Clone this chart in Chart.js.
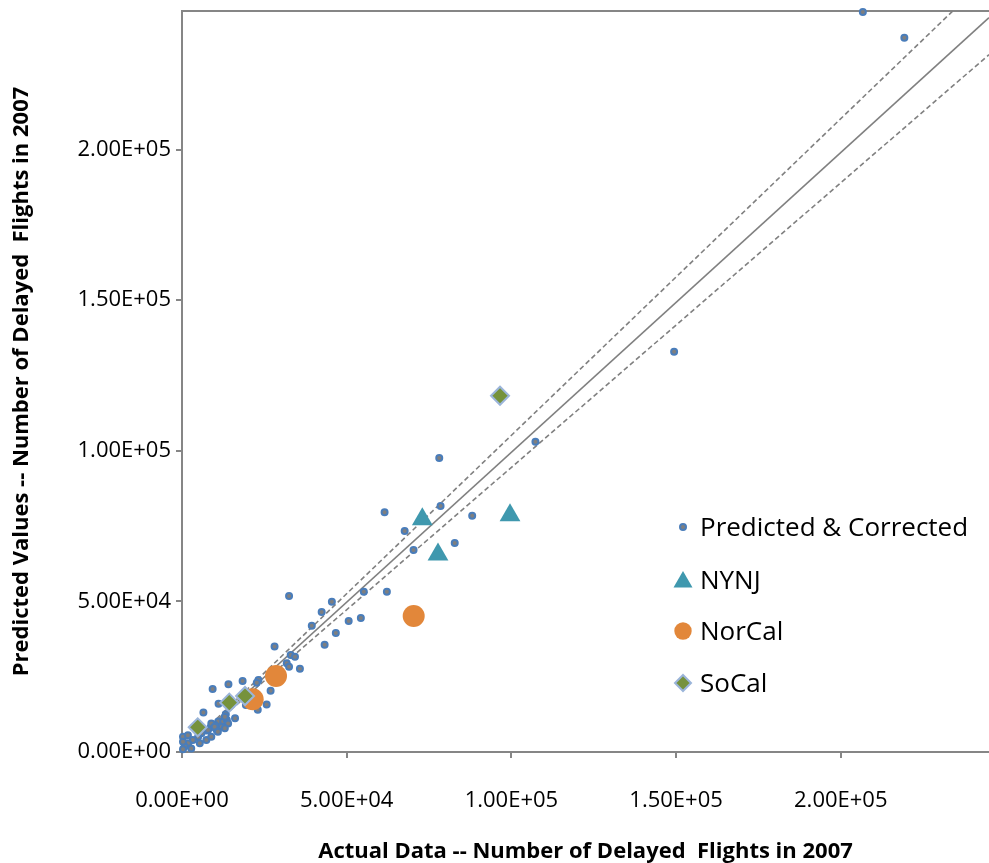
<!DOCTYPE html>
<html>
<head>
<meta charset="utf-8">
<script src="https://cdn.jsdelivr.net/npm/chart.js@4.4.0/dist/chart.umd.min.js"></script>
<style>
  html, body { margin: 0; padding: 0; background: #fff; }
  #wrap { width: 989px; height: 863px; }
</style>
</head>
<body>
<div id="wrap"><canvas id="scatterChart" width="989" height="863"></canvas></div>
<script>
// Predicted & Corrected (blue dots)
const predX = [206700, 219300, 149400, 107300, 78100, 61500, 78500, 88100, 67600, 82800,
  70300, 62200, 32500, 45500, 55200, 42400, 50600, 54300, 39400, 46700,
  43300, 28100, 33000, 34300, 31800, 32500, 35800, 23200, 22700, 26900,
  14100, 18400, 9300, 11100, 25700, 13300, 16100, 6500, 11000, 10000,
  12500, 8700, 12100, 7500, 13600, 10500, 8900, 14000, 13000, 9900,
  7900, 5900, 4900, 3300, 1800, 800, 300, 2800, 5400, 7400,
  8900, 10900, 13000, 300, 300, 1800, 19400, 23000];
const predY = [245700, 237100, 132900, 103000, 97600, 79600, 81700, 78400, 73400, 69400,
  67100, 53200, 51800, 49900, 53200, 46500, 43500, 44500, 41900, 39500,
  35600, 35000, 32200, 31600, 29500, 28300, 27600, 23900, 23000, 20300,
  22500, 23600, 20900, 16000, 15800, 12500, 11200, 13100, 10100, 9000,
  10100, 8200, 8400, 7100, 10600, 7300, 9500, 9500, 11700, 8400,
  7300, 6200, 5100, 4000, 2900, 1800, 900, 1200, 2900, 4000,
  5100, 6700, 7900, 5100, 3400, 5600, 15600, 14000];

const nynjX = [72960, 99580, 77720];
const nynjY = [77300, 78630, 65540];

const norcalX = [70340, 28540, 21460];
const norcalY = [45180, 25250, 17510];

const socalX = [96550, 19130, 14360, 4770];
const socalY = [118260, 18600, 16380, 8200];

// reference lines (solid and the two dashed ones)
const solidX = [0, 245000];
const solidY = [0, 243800];
const upperX = [0, 234000];
const upperY = [0, 246000];
const lowerX = [0, 245000];
const lowerY = [0, 231500];

const xTicks = [0, 50000, 100000, 150000, 200000];
const yTicks = [0, 50000, 100000, 150000, 200000];

const seriesNames = ['Predicted & Corrected', 'NYNJ', 'NorCal', 'SoCal'];
const xTitle = 'Actual Data -- Number of Delayed  Flights in 2007';
const yTitle = 'Predicted Values -- Number of Delayed  Flights in 2007';

const pts = (xs, ys) => xs.map((x, i) => ({ x: x, y: ys[i] }));

function sci(v) {
    const parts = Number(v).toExponential(2).split('e');
    const e = parseInt(parts[1], 10);
    return parts[0] + 'E' + (e < 0 ? '-' : '+') + String(Math.abs(e)).padStart(2, '0');
}

const FONT = '"Open Sans", "DejaVu Sans", sans-serif';
const AXIS_GRAY = '#868686';

const sideLegend = {
    id: 'sideLegend',
    beforeDatasetsDraw(chart) {
        const ctx = chart.ctx;
        const a = chart.chartArea;
        ctx.save();
        ctx.strokeStyle = AXIS_GRAY;
        ctx.lineWidth = 2;
        ctx.beginPath();
        ctx.moveTo(a.left, a.top);
        ctx.lineTo(a.right, a.top);
        ctx.stroke();
        ctx.restore();
    },
    afterDraw(chart) {
        const ctx = chart.ctx;
        const mx = 683, tx = 700;
        const rows = [527, 580, 631, 683];
        ctx.save();
        // dot
        ctx.beginPath();
        ctx.arc(mx, rows[0], 3, 0, Math.PI * 2);
        ctx.fillStyle = '#7F7F7F';
        ctx.fill();
        ctx.lineWidth = 2;
        ctx.strokeStyle = '#4A7DBA';
        ctx.stroke();
        // triangle
        ctx.beginPath();
        ctx.moveTo(mx, rows[1] - 9);
        ctx.lineTo(mx + 9.5, rows[1] + 7.5);
        ctx.lineTo(mx - 9.5, rows[1] + 7.5);
        ctx.closePath();
        ctx.fillStyle = '#3F98AE';
        ctx.fill();
        // circle
        ctx.beginPath();
        ctx.arc(mx, rows[2], 8.7, 0, Math.PI * 2);
        ctx.fillStyle = '#E2873A';
        ctx.fill();
        // diamond
        ctx.beginPath();
        ctx.moveTo(mx, rows[3] - 8);
        ctx.lineTo(mx + 8, rows[3]);
        ctx.lineTo(mx, rows[3] + 8);
        ctx.lineTo(mx - 8, rows[3]);
        ctx.closePath();
        ctx.fillStyle = '#76923C';
        ctx.fill();
        ctx.lineWidth = 2;
        ctx.strokeStyle = '#9BB5DA';
        ctx.stroke();
        // labels
        ctx.fillStyle = '#000';
        ctx.font = '26px ' + FONT;
        ctx.textAlign = 'left';
        ctx.textBaseline = 'alphabetic';
        seriesNames.forEach((name, i) => ctx.fillText(name, tx, rows[i] + 9));
        ctx.restore();
    }
};

const lineDs = (xs, ys, dash) => ({
    label: '',
    data: pts(xs, ys),
    showLine: true,
    pointRadius: 0,
    borderColor: '#808080',
    borderWidth: 1.6,
    borderDash: dash,
    order: 10
});

new Chart(document.getElementById('scatterChart').getContext('2d'), {
    type: 'scatter',
    data: {
        datasets: [
            {
                label: seriesNames[0],
                data: pts(predX, predY),
                pointStyle: 'circle',
                pointRadius: 3,
                backgroundColor: '#7F7F7F',
                borderColor: '#4A7DBA',
                borderWidth: 2,
                clip: false,
                order: 4
            },
            {
                label: seriesNames[1],
                data: pts(nynjX, nynjY),
                pointStyle: 'triangle',
                pointRadius: 12,
                backgroundColor: '#3F98AE',
                borderColor: '#3F98AE',
                borderWidth: 0,
                order: 3
            },
            {
                label: seriesNames[2],
                data: pts(norcalX, norcalY),
                pointStyle: 'circle',
                pointRadius: 11,
                backgroundColor: '#E2873A',
                borderColor: '#E2873A',
                borderWidth: 0,
                order: 2
            },
            {
                label: seriesNames[3],
                data: pts(socalX, socalY),
                pointStyle: 'rectRot',
                pointRadius: 9,
                backgroundColor: '#76923C',
                borderColor: '#9BB5DA',
                borderWidth: 2,
                order: 1
            },
            lineDs(solidX, solidY, []),
            lineDs(upperX, upperY, [5, 3]),
            lineDs(lowerX, lowerY, [5, 3])
        ]
    },
    options: {
        responsive: false,
        animation: false,
        events: [],
        devicePixelRatio: 1,
        layout: { autoPadding: false, padding: { top: 11, right: 0, bottom: 0, left: 0 } },
        plugins: {
            legend: { display: false },
            tooltip: { enabled: false }
        },
        scales: {
            x: {
                type: 'linear',
                min: 0,
                max: 245000,
                afterFit: (scale) => {
                    scale.height = 111;
                    scale.paddingLeft = 0;
                    scale.paddingRight = 0;
                },
                afterBuildTicks: (scale) => { scale.ticks = xTicks.map(v => ({ value: v })); },
                ticks: {
                    maxRotation: 0,
                    autoSkip: false,
                    color: '#000',
                    padding: 30,
                    font: { family: FONT, size: 22 },
                    callback: (v) => sci(v)
                },
                grid: {
                    drawOnChartArea: false,
                    drawTicks: true,
                    tickLength: 6,
                    color: AXIS_GRAY,
                    lineWidth: 2
                },
                border: { display: true, color: AXIS_GRAY, width: 2 },
                title: {
                    display: true,
                    text: xTitle,
                    color: '#000',
                    font: { family: FONT, size: 22, weight: 'bold' },
                    padding: { top: 2, bottom: -2 }
                }
            },
            y: {
                type: 'linear',
                min: 0,
                max: 246000,
                afterFit: (scale) => {
                    scale.width = 182;
                    scale.paddingTop = 0;
                    scale.paddingBottom = 0;
                },
                afterBuildTicks: (scale) => { scale.ticks = yTicks.map(v => ({ value: v })); },
                ticks: {
                    autoSkip: false,
                    color: '#000',
                    padding: 5,
                    font: { family: FONT, size: 22 },
                    callback: (v) => sci(v)
                },
                grid: {
                    drawOnChartArea: false,
                    drawTicks: true,
                    tickLength: 6,
                    color: AXIS_GRAY,
                    lineWidth: 2
                },
                border: { display: true, color: AXIS_GRAY, width: 2 },
                title: {
                    display: true,
                    text: yTitle,
                    color: '#000',
                    font: { family: FONT, size: 22, weight: 'bold' },
                    padding: { top: 9, bottom: 0 }
                }
            }
        }
    },
    plugins: [sideLegend]
});
</script>
</body>
</html>
